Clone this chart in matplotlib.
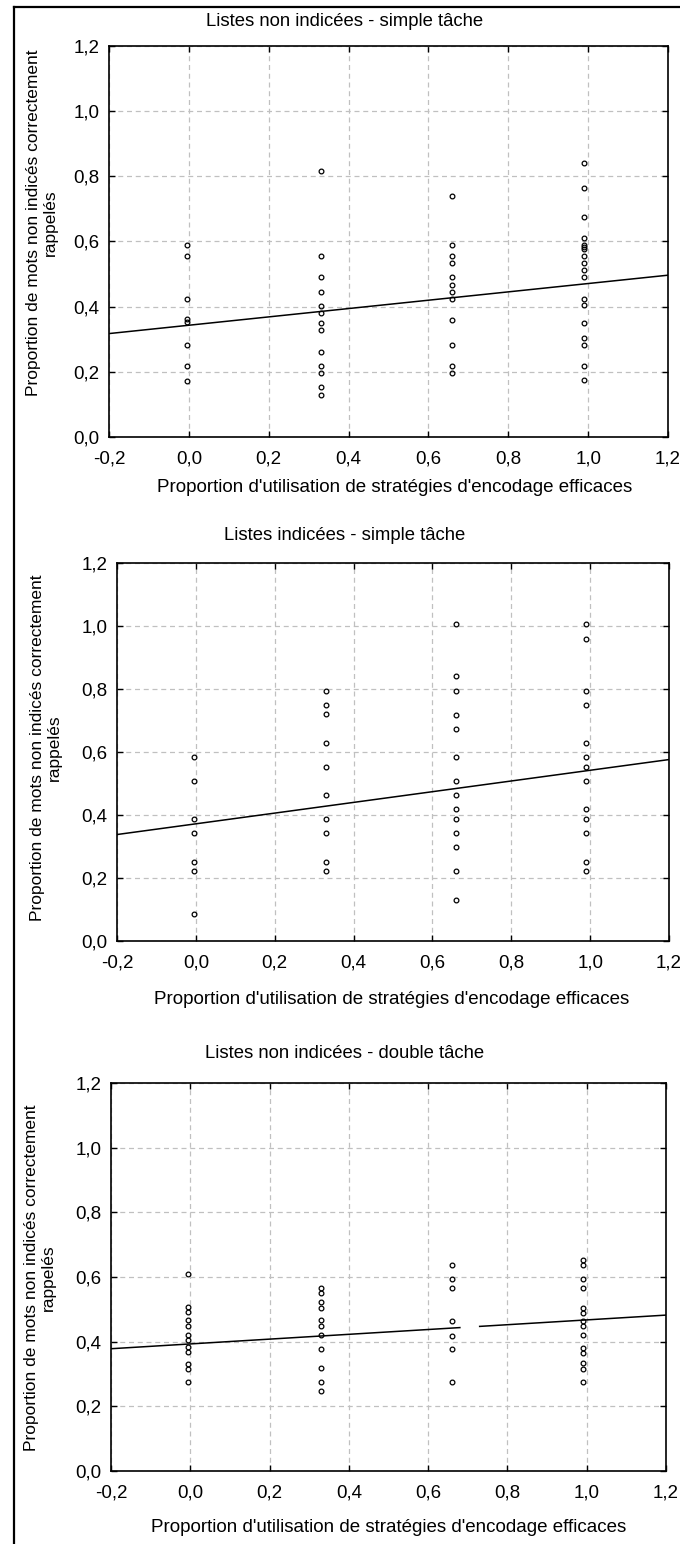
import numpy as np
import matplotlib
matplotlib.use("Agg")
import matplotlib.pyplot as plt
from matplotlib.lines import Line2D

plt.rcParams['font.family'] = ['Liberation Sans', 'DejaVu Sans']

# Niveaux de x (proportion de stratégies efficaces) tels que placés sur le graphique
x_niveaux = [-0.005, 0.33, 0.66, 0.99]

# Listes non indicées - simple tâche
p1_col0 = [0.588, 0.555, 0.423, 0.361, 0.352, 0.281, 0.217, 0.173]
p1_col1 = [0.817, 0.555, 0.490, 0.446, 0.403, 0.380, 0.350, 0.327, 0.262, 0.217, 0.196, 0.152, 0.129]
p1_col2 = [0.740, 0.588, 0.555, 0.533, 0.490, 0.468, 0.446, 0.423, 0.359, 0.282, 0.217, 0.195]
p1_col3 = [0.840, 0.764, 0.676, 0.610, 0.590, 0.583, 0.576, 0.555, 0.533, 0.512, 0.490,
           0.423, 0.405, 0.350, 0.305, 0.282, 0.217, 0.174]

# Listes indicées - simple tâche
p2_col0 = [0.584, 0.508, 0.387, 0.343, 0.252, 0.222, 0.086]
p2_col1 = [0.795, 0.748, 0.720, 0.630, 0.553, 0.462, 0.387, 0.342, 0.251, 0.221]
p2_col2 = [1.006, 0.841, 0.795, 0.718, 0.674, 0.584, 0.508, 0.462, 0.418, 0.387, 0.342,
           0.297, 0.221, 0.130]
p2_col3 = [1.006, 0.960, 0.795, 0.749, 0.629, 0.584, 0.553, 0.508, 0.418, 0.387, 0.342,
           0.251, 0.221]

# Listes non indicées - double tâche
p3_col0 = [0.609, 0.506, 0.491, 0.467, 0.450, 0.421, 0.406, 0.382, 0.367, 0.330, 0.315, 0.274]
p3_col1 = [0.566, 0.549, 0.522, 0.505, 0.466, 0.450, 0.421, 0.377, 0.318, 0.274, 0.247]
p3_col2 = [0.638, 0.595, 0.566, 0.463, 0.419, 0.377, 0.274]
p3_col3 = [0.654, 0.636, 0.595, 0.566, 0.505, 0.490, 0.464, 0.450, 0.421, 0.380, 0.364,
           0.333, 0.316, 0.274]

# Droites de régression (ordonnée à l'origine, pente)
p1_fit = (0.343, 0.128)
p2_fit = (0.372, 0.170)
p3_fit = (0.393, 0.0743)

titres = ['Listes non indicées - simple tâche',
          'Listes indicées - simple tâche',
          'Listes non indicées - double tâche']
xlabel = "Proportion d'utilisation de stratégies d'encodage efficaces"
ylabel = "Proportion de mots non indicés correctement\nrappelés"

ticks = [-0.2, 0.0, 0.2, 0.4, 0.6, 0.8, 1.0, 1.2]
tick_labels = ['-0,2', '0,0', '0,2', '0,4', '0,6', '0,8', '1,0', '1,2']
yticks = [0.0, 0.2, 0.4, 0.6, 0.8, 1.0, 1.2]
ytick_labels = ['0,0', '0,2', '0,4', '0,6', '0,8', '1,0', '1,2']

W, H = 680, 1544
fig = plt.figure(figsize=(W / 100, H / 100), dpi=100)

# positions en pixels: gauche, droite, haut, bas
cadres = [(109, 668, 46, 437), (117, 669, 563, 941), (111, 666, 1083, 1471)]
titre_y = [22, 535, 1053]
xlabel_pos = [(395, 488), (392, 1000), (389, 1527)]
ylabel_pos = [(42, 223), (46, 748), (40, 1278)]

panneaux = [
    ([p1_col0, p1_col1, p1_col2, p1_col3], p1_fit, None),
    ([p2_col0, p2_col1, p2_col2, p2_col3], p2_fit, None),
    ([p3_col0, p3_col1, p3_col2, p3_col3], p3_fit, (0.68, 0.73)),
]

for i, (cols, fit, trou) in enumerate(panneaux):
    l, r, t, b = cadres[i]
    ax = fig.add_axes([l / W, 1 - b / H, (r - l) / W, (b - t) / H])
    for xv, ys in zip(x_niveaux, cols):
        ax.plot([xv] * len(ys), ys, 'o', ms=3.4, mfc='none', mec='black', mew=0.9)

    a, s = fit
    if trou is None:
        xs = np.array([-0.2, 1.2])
        ax.plot(xs, a + s * xs, color='black', lw=1.1)
    else:
        for seg in ([-0.2, trou[0]], [trou[1], 1.2]):
            xs = np.array(seg)
            ax.plot(xs, a + s * xs, color='black', lw=1.1)

    ax.set_xlim(-0.2, 1.2)
    ax.set_ylim(0, 1.2)
    ax.set_xticks(ticks)
    ax.set_xticklabels(tick_labels)
    ax.set_yticks(yticks)
    ax.set_yticklabels(ytick_labels)
    ax.tick_params(direction='in', length=4, width=1, top=True, right=True,
                   labelsize=13.5)
    ax.tick_params(axis='x', pad=10)
    ax.tick_params(axis='y', pad=7)
    ax.grid(True, color='#c0c0c0', linestyle=(0, (4, 3)), linewidth=0.9)
    for sp in ax.spines.values():
        sp.set_linewidth(1.2)

    fig.text(345 / W, 1 - titre_y[i] / H, titres[i], ha='center', va='center', fontsize=13.3)
    fig.text(xlabel_pos[i][0] / W, 1 - xlabel_pos[i][1] / H, xlabel,
             ha='center', va='center', fontsize=13.5)
    fig.text(ylabel_pos[i][0] / W, 1 - ylabel_pos[i][1] / H, ylabel, rotation=90,
             ha='center', va='center', fontsize=12.5, multialignment='center')

# cadre extérieur (gauche et haut)
fig.add_artist(Line2D([13.5 / W, 13.5 / W], [0, 1 - 7 / H], color='black', lw=1.6))
fig.add_artist(Line2D([13.5 / W, 1], [1 - 7 / H, 1 - 7 / H], color='black', lw=1.6))

fig.savefig('out.png', dpi=100)
